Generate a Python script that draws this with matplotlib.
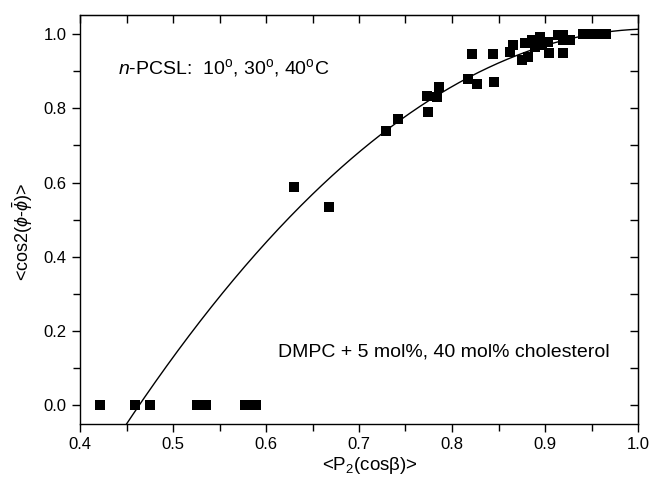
import numpy as np
import matplotlib
matplotlib.use("Agg")
import matplotlib.pyplot as plt
from matplotlib.ticker import MultipleLocator

plt.rcParams['font.family'] = ['Liberation Sans', 'DejaVu Sans']
plt.rcParams['mathtext.fontset'] = 'custom'
plt.rcParams['mathtext.rm'] = 'Liberation Sans'
plt.rcParams['mathtext.it'] = 'Liberation Sans:italic'
plt.rcParams['mathtext.bf'] = 'Liberation Sans:bold'

# data
p2_values = [0.421, 0.459, 0.475, 0.526, 0.531, 0.535, 0.577, 0.583, 0.589,
             0.630, 0.668, 0.729, 0.742, 0.773, 0.774, 0.784, 0.786,
             0.817, 0.822, 0.827, 0.844, 0.845,
             0.862, 0.866, 0.875, 0.878, 0.882, 0.886, 0.889, 0.895, 0.897,
             0.903, 0.904, 0.914, 0.919, 0.919, 0.927, 0.919,
             0.941, 0.948, 0.955, 0.962, 0.966]
cos2_values = [0.0, 0.0, 0.0, 0.0, 0.0, 0.0, 0.0, 0.0, 0.0,
               0.588, 0.534, 0.739, 0.771, 0.833, 0.790, 0.830, 0.857,
               0.879, 0.946, 0.865, 0.946, 0.871,
               0.951, 0.970, 0.930, 0.976, 0.938, 0.984, 0.965, 0.992, 0.970,
               0.978, 0.949, 0.997, 0.997, 0.984, 0.984, 0.949,
               1.0, 1.0, 1.0, 1.0, 1.0]

# quadratic fit curve coefficients (c0 + c1*x + c2*x^2)
fit_coeffs = [-2.4122, 6.7418, -3.3166]
fit_range = [0.4, 1.0]

fig = plt.figure(figsize=(6.51, 4.90), dpi=100)
ax = fig.add_axes([80/651, 1-424/490, (638-80)/651, (424-15.5)/490])

xf = np.linspace(fit_range[0], fit_range[1], 400)
yf = fit_coeffs[0] + fit_coeffs[1]*xf + fit_coeffs[2]*xf**2
ax.plot(xf, yf, color='black', lw=1.0)
ax.plot(p2_values, cos2_values, 's', color='black', markersize=7.5, markeredgewidth=0)

ax.set_xlim(0.4, 1.0)
ax.set_ylim(-0.05, 1.05)
ax.xaxis.set_major_locator(MultipleLocator(0.1))
ax.xaxis.set_minor_locator(MultipleLocator(0.05))
ax.yaxis.set_major_locator(MultipleLocator(0.2))
ax.yaxis.set_minor_locator(MultipleLocator(0.1))
ax.xaxis.set_major_formatter(matplotlib.ticker.FormatStrFormatter('%.1f'))
ax.yaxis.set_major_formatter(matplotlib.ticker.FormatStrFormatter('%.1f'))

for s in ax.spines.values():
    s.set_linewidth(1.0)

ax.tick_params(which='both', direction='out', top=False, right=False, labelsize=12, width=1.0)
ax.tick_params(which='major', length=6)
ax.tick_params(which='minor', length=5)

# inward ticks on top and right
axt = ax.secondary_xaxis('top')
axt.xaxis.set_major_locator(MultipleLocator(0.1))
axt.xaxis.set_minor_locator(MultipleLocator(0.05))
axt.tick_params(which='both', direction='in', labeltop=False, length=6, width=1.0)
axr = ax.secondary_yaxis('right')
axr.yaxis.set_major_locator(MultipleLocator(0.2))
axr.yaxis.set_minor_locator(MultipleLocator(0.1))
axr.tick_params(which='both', direction='in', labelright=False, length=6, width=1.0)

ax.set_xlabel(r'<P$_\mathregular{2}$(cosβ)>', fontsize=13.5)
ax.set_ylabel(r'<cos2($\phi$-$\bar{\phi}$)>', fontsize=13)
ax.xaxis.set_label_coords(0.52, -0.075)
ax.yaxis.set_label_coords(-0.08, 0.47)

ax.text(0.441, 0.908, r'$\mathit{n}$-PCSL:  10$^\mathregular{o}$, 30$^\mathregular{o}$, 40$^\mathregular{o}$C',
        fontsize=14, ha='left', va='center')
ax.text(0.613, 0.143, 'DMPC + 5 mol%, 40 mol% cholesterol', fontsize=14, ha='left', va='center')

fig.savefig('out.png', dpi=100)
